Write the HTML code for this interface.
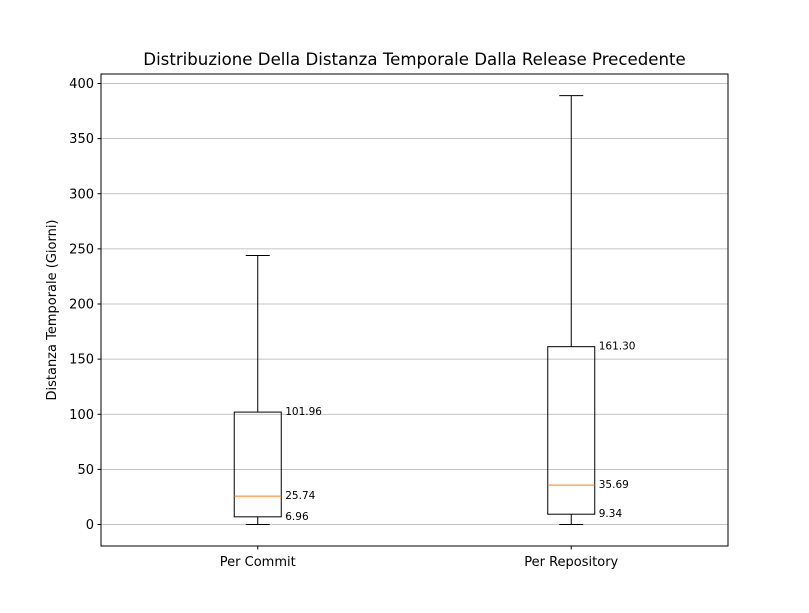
<!DOCTYPE html>
<html><head><meta charset="utf-8"><style>
body{margin:0;background:#fff}
svg{display:block;font-family:"DejaVu Sans","Liberation Sans",sans-serif}
</style></head><body>
<svg id="chart" width="809" height="613" xmlns="http://www.w3.org/2000/svg">
<rect width="809" height="613" fill="#fff"/>
<text x="414.5" y="65" text-anchor="middle" font-size="16.6">Distribuzione Della Distanza Temporale Dalla Release Precedente</text>
<g id="grid"></g><g id="yticks"></g><g id="xticks"></g><g id="boxes"></g>
<rect x="101" y="74" width="627" height="472" fill="none" stroke="#000" stroke-width="1"/>
<text transform="translate(56,310) rotate(-90)" text-anchor="middle" font-size="13">Distanza Temporale (Giorni)</text>
</svg>
<script>
const categories=["Per Commit","Per Repository"];
const whiskerLow=[0,0];
const q1=[6.96,9.34];
const medians=[25.74,35.69];
const q3=[101.96,161.30];
const whiskerHigh=[244,389];
const yTicks=[0,50,100,150,200,250,300,350,400];
const NS="http://www.w3.org/2000/svg";
const L=101,R=728,T=74,B=546;
function y(v){return 524.5-v*(441/400);}
function x(i){return L+(i+1-0.5)*(R-L)/2;}
function mk(tag,attrs,parent,text){const e=document.createElementNS(NS,tag);for(const k in attrs)e.setAttribute(k,attrs[k]);if(text!==undefined)e.textContent=text;parent.appendChild(e);return e;}
const grid=document.getElementById('grid'),yt=document.getElementById('yticks'),xt=document.getElementById('xticks'),bx=document.getElementById('boxes');
yTicks.forEach(t=>{
 const g=mk('line',{x1:L,x2:R,y1:y(t),y2:y(t),stroke:'#b0b0b0','stroke-width':0.8},grid);
 
 
 mk('line',{x1:L-3.5,x2:L,y1:y(t),y2:y(t),stroke:'#000'},yt);
 const tx=mk('text',{x:L-7,y:y(t)+4.5,'text-anchor':'end','font-size':13},yt,String(t));
 
 
});
categories.forEach((c,i)=>{
 const cx=x(i),hw=23.5,cw=12;
 mk('line',{x1:cx,x2:cx,y1:B,y2:B+3.5,stroke:'#000'},xt);
 const tl=mk('text',{x:cx,y:B+20,'text-anchor':'middle','font-size':13},xt,c);
 
 
 const g=mk('g',{},bx);
 
 
 mk('line',{x1:cx,x2:cx,y1:y(q3[i]),y2:y(whiskerHigh[i]),stroke:'#000'},g);
 mk('line',{x1:cx,x2:cx,y1:y(q1[i]),y2:y(whiskerLow[i]),stroke:'#000'},g);
 mk('line',{x1:cx-cw,x2:cx+cw,y1:y(whiskerHigh[i]),y2:y(whiskerHigh[i]),stroke:'#000'},g);
 mk('line',{x1:cx-cw,x2:cx+cw,y1:y(whiskerLow[i]),y2:y(whiskerLow[i]),stroke:'#000'},g);
 mk('rect',{x:cx-hw,y:y(q3[i]),width:2*hw,height:y(q1[i])-y(q3[i]),fill:'none',stroke:'#000'},g);
 mk('line',{x1:cx-hw,x2:cx+hw,y1:y(medians[i]),y2:y(medians[i]),stroke:'#ff7f0e'},g);
 [[q3[i]],[medians[i]],[q1[i]]].forEach(([v])=>{
  const a=mk('text',{x:cx+hw+4,y:y(v)+3,'font-size':10.5},g,v.toFixed(2));
  
  
 });
});
</script>
</body></html>
